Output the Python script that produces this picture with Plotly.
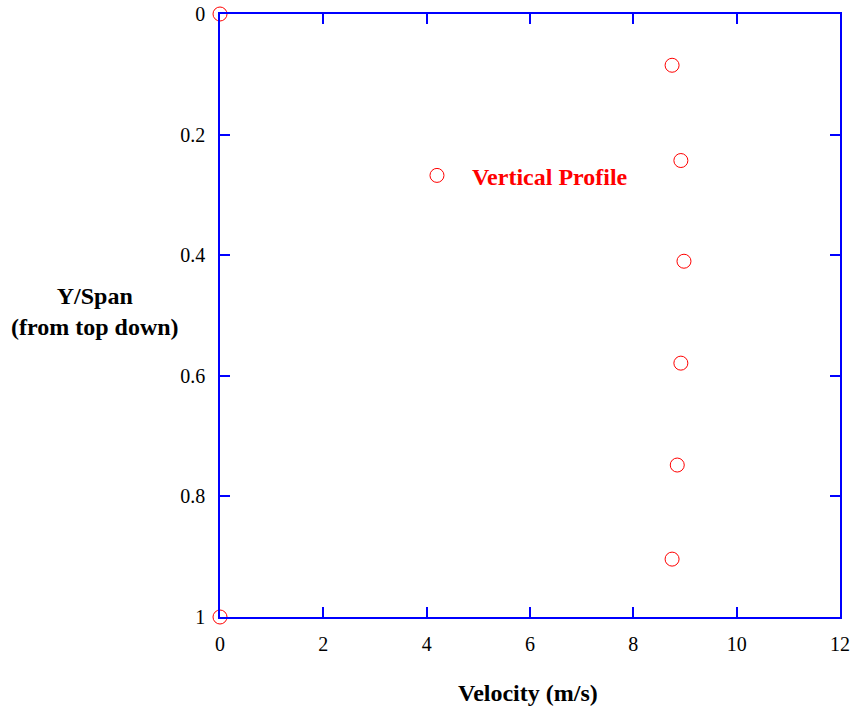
import plotly.graph_objects as go

velocity = [0.0, 8.75, 8.92, 8.98, 8.92, 8.85, 8.75, 0.0]
y_span = [0.0, 0.085, 0.243, 0.41, 0.579, 0.748, 0.904, 1.0]
x_ticks = [0, 2, 4, 6, 8, 10, 12]
y_ticks = [0, 0.2, 0.4, 0.6, 0.8, 1]
y_tick_labels = ["0", "0.2", "0.4", "0.6", "0.8", "1"]

FONT = "Liberation Serif, Times New Roman, serif"

fig = go.Figure()
fig.add_trace(go.Scatter(
    x=velocity, y=y_span, mode="markers", name="Vertical Profile",
    marker=dict(symbol="circle-open", size=14, color="#ff0000", line=dict(width=1)),
    cliponaxis=False,
))

axis_common = dict(
    showline=True, linecolor="#0000ff", linewidth=1.5, mirror="ticks",
    ticks="inside", ticklen=10, tickcolor="#0000ff", tickwidth=1.5,
    showgrid=False, zeroline=False, automargin=False,
    ticklabeloverflow="allow",
    tickfont=dict(family=FONT, size=20, color="black"),
)

fig.update_layout(
    width=853, height=712,
    margin=dict(l=220, r=13, t=14, b=95),
    plot_bgcolor="white", paper_bgcolor="white",
    xaxis=dict(range=[0, 12], tickvals=x_ticks, ticklabelstandoff=8, **axis_common),
    yaxis=dict(range=[1, 0], tickvals=y_ticks, ticktext=y_tick_labels,
               ticklabelstandoff=9, **axis_common),
    showlegend=True,
    legend=dict(
        x=0.2935, y=0.769, xanchor="left", yanchor="top",
        bgcolor="rgba(0,0,0,0)", itemwidth=60,
        font=dict(family=FONT, size=24, color="#ff0000", weight="bold"),
    ),
    annotations=[
        dict(text="<b>Velocity (m/s)</b>", xref="paper", yref="paper",
             x=0.497, y=-0.126, xanchor="center", yanchor="middle", showarrow=False,
             font=dict(family=FONT, size=24, color="black")),
        dict(text="<b>Y/Span<br>(from top down)</b>", xref="paper", yref="paper",
             x=-0.2016, y=0.506, xanchor="center", yanchor="middle", showarrow=False,
             font=dict(family=FONT, size=24, color="black")),
    ],
)

fig.write_html(
    "out.html",
    config={"displayModeBar": False},
    post_script="document.body.style.margin='0';document.body.style.overflow='hidden';",
)
